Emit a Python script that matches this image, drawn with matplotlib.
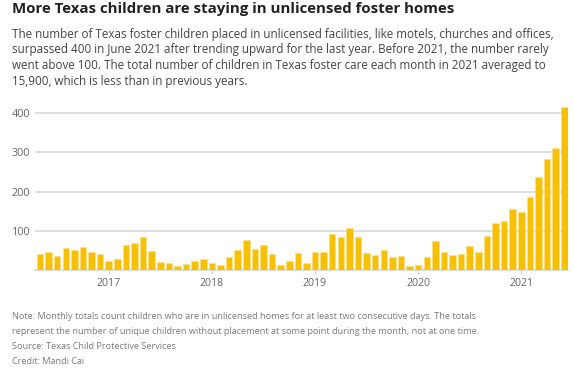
import numpy as np
import matplotlib
matplotlib.use("Agg")
from matplotlib import pyplot as plt

# monthly counts, May 2016 - June 2021
months = ["2016-05", "2016-06", "2016-07", "2016-08", "2016-09", "2016-10", "2016-11", "2016-12"]
for yr in range(2017, 2021):
    months += ["%d-%02d" % (yr, m) for m in range(1, 13)]
months += ["2021-%02d" % m for m in range(1, 7)]

counts_2016 = [41, 47, 36, 55, 51, 58, 47, 41]
counts_2017 = [24, 29, 65, 70, 83, 48, 20, 18, 9, 16, 24, 27]
counts_2018 = [19, 14, 34, 50, 76, 53, 64, 41, 13, 22, 43, 19]
counts_2019 = [47, 47, 93, 83, 106, 83, 44, 38, 52, 32, 36, 9]
counts_2020 = [13, 33, 75, 47, 37, 42, 60, 47, 86, 119, 125, 155]
counts_2021 = [147, 185, 237, 283, 311, 415]
counts = counts_2016 + counts_2017 + counts_2018 + counts_2019 + counts_2020 + counts_2021

year_labels = ["2017", "2018", "2019", "2020", "2021"]
y_ticks = [100, 200, 300, 400]

title = "More Texas children are staying in unlicensed foster homes"
subtitle = [
    "The number of Texas foster children placed in unlicensed facilities, like motels, churches and offices,",
    "surpassed 400 in June 2021 after trending upward for the last year. Before 2021, the number rarely",
    "went above 100. The total number of children in Texas foster care each month in 2021 averaged to",
    "15,900, which is less than in previous years.",
]
notes = [
    "Note: Monthly totals count children who are in unlicensed homes for at least two consecutive days. The totals",
    "represent the number of unique children without placement at some point during the month, not at one time.",
    "Source: Texas Child Protective Services",
    "Credit: Mandi Cai",
]

plt.rcParams["font.family"] = ["Open Sans", "DejaVu Sans"]

W, H = 574, 372
fig = plt.figure(figsize=(W / 100, H / 100), dpi=100)
fig.patch.set_facecolor("white")

# axes box in pixel coords
left, right, top, bottom = 35, 568, 105, 270
ax = fig.add_axes([left / W, 1 - bottom / H, (right - left) / W, (bottom - top) / H])

x = np.arange(len(counts))
ax.bar(x, counts, width=0.76, color="#f7c000", edgecolor="#fbe08a", linewidth=0.4, zorder=3)

ax.set_xlim(-0.58, len(counts) - 0.57)
ax.set_ylim(0, 421)

ax.set_yticks(y_ticks)
ax.set_yticklabels([str(v) for v in y_ticks])
ax.yaxis.grid(True, color="#dcdcdc", linewidth=1.3, zorder=0)
ax.tick_params(axis="y", length=0, pad=3.5, labelsize=7.8, labelcolor="#666666")

jan_pos = [months.index(y + "-01") for y in year_labels]
ax.set_xticks(jan_pos)
ax.set_xticklabels(year_labels)
ax.tick_params(axis="x", length=3, width=0.8, color="#cccccc", pad=3, labelsize=7.6, labelcolor="#666666")

for s in ["top", "right", "left"]:
    ax.spines[s].set_visible(False)
ax.spines["bottom"].set_color("#d8d8d8")
ax.spines["bottom"].set_linewidth(1.2)

def px(y):
    return 1 - y / H

fig.text(12 / W, px(13.3), title, fontsize=10.8, fontweight="bold", color="#222222", va="baseline")
for i, line in enumerate(subtitle):
    fig.text(12 / W, px(37.7 + i * 15.6), line, fontsize=8.35, color="#444444", va="baseline")
for i, line in enumerate(notes):
    fig.text(12 / W, px(319 + i * 15.1), line, fontsize=6.55, color="#7a7a7a", va="baseline")

fig.savefig("out.png", dpi=100)
